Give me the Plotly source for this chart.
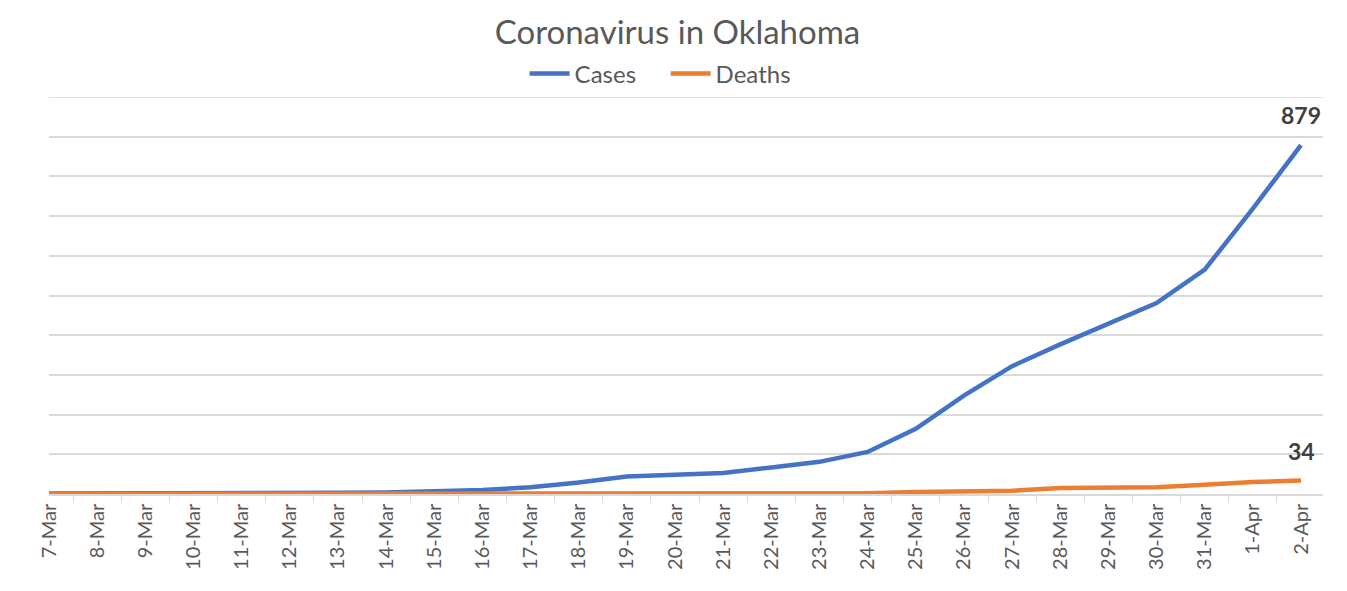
import plotly.graph_objects as go

dates = ['7-Mar', '8-Mar', '9-Mar', '10-Mar', '11-Mar', '12-Mar', '13-Mar', '14-Mar',
         '15-Mar', '16-Mar', '17-Mar', '18-Mar', '19-Mar', '20-Mar', '21-Mar', '22-Mar',
         '23-Mar', '24-Mar', '25-Mar', '26-Mar', '27-Mar', '28-Mar', '29-Mar', '30-Mar',
         '31-Mar', '1-Apr', '2-Apr']
cases = [1, 1, 1, 1, 2, 2, 3, 4, 7, 10, 17, 29, 44, 49, 53, 67, 81, 106, 164, 248,
         322, 377, 429, 481, 565, 719, 879]
deaths = [0, 0, 0, 0, 0, 0, 0, 0, 0, 0, 0, 0, 1, 1, 1, 1, 2, 2, 5, 7, 8, 15, 16, 17,
          23, 30, 34]

grey = '#595959'
font = 'Lato, Calibri, sans-serif'

# the page body adds an 8px margin, so the figure is 8px smaller than the window
W, H = 1339, 583

fig = go.Figure()
fig.add_trace(go.Scatter(x=dates, y=cases, name='Cases', mode='lines',
                         line=dict(color='#4472C4', width=4.5)))
fig.add_trace(go.Scatter(x=dates, y=deaths, name='Deaths', mode='lines',
                         line=dict(color='#ED7D31', width=4.5)))

# value labels on the last point of each series
for series in (cases, deaths):
    fig.add_annotation(x=dates[-1], y=series[-1], text='<b>%d</b>' % series[-1],
                       showarrow=False, yshift=30,
                       font=dict(family=font, size=23, color='#404040'))

# plotly skips the gridline sitting on the top edge, draw it by hand
fig.add_shape(type='line', xref='paper', x0=0, x1=1, yref='y', y0=1000, y1=1000,
              line=dict(color='#d9d9d9', width=1.5), layer='below')

fig.update_layout(
    width=W,
    height=H,
    margin=dict(l=41, r=24, t=89, b=97),
    paper_bgcolor='white',
    plot_bgcolor='white',
    font=dict(family=font, color=grey),
    title=dict(text='Coronavirus in Oklahoma', x=0.5, xanchor='center',
               y=1 - 24 / H, yanchor='middle',
               font=dict(family=font, size=33, color=grey)),
    legend=dict(orientation='h', x=0.484, xanchor='center',
                yref='container', y=1 - 66 / H, yanchor='middle',
                font=dict(family=font, size=24, color=grey),
                itemwidth=40, entrywidth=86),
    showlegend=True,
    xaxis=dict(
        type='category',
        tickson='boundaries',
        ticks='outside',
        ticklen=7,
        tickcolor='#d9d9d9',
        showline=True,
        linecolor='#d9d9d9',
        linewidth=1.5,
        showgrid=False,
        tickangle=-90,
        tickfont=dict(family=font, size=20, color=grey),
        automargin=False,
    ),
    yaxis=dict(
        range=[0, 1000],
        dtick=100,
        showticklabels=False,
        showgrid=True,
        gridcolor='#d9d9d9',
        gridwidth=1.5,
        zeroline=False,
        automargin=False,
    ),
)

fig.write_html('out.html')
